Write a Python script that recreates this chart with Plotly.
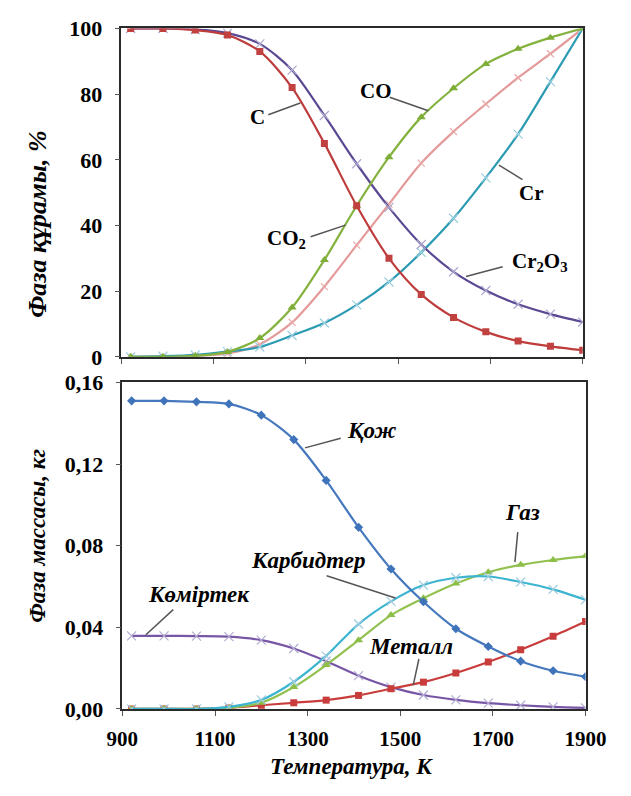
import plotly.graph_objects as go

# ---------------- data ----------------
T = [920, 990, 1060, 1130, 1200, 1270, 1340, 1410, 1480, 1550, 1620, 1690, 1760, 1830, 1900]

# top panel: phase composition, %
C_pct     = [100, 100, 99.5, 98.0, 93.0, 82.0, 65.0, 46.0, 30.0, 19.0, 12.0, 7.6, 4.8, 3.2, 2.0]
CO_pct    = [0, 0, 0.3, 1.5, 5.7, 15.0, 29.5, 46.0, 60.8, 73.0, 81.8, 89.2, 93.8, 97.2, 100]
CO2_pct   = [0, 0, 0.2, 1.0, 3.8, 10.5, 21.4, 34.0, 46.5, 59.0, 68.6, 77.0, 85.0, 92.3, 100]
Cr_pct    = [0, 0.2, 0.6, 1.6, 3.0, 6.5, 10.3, 15.8, 22.8, 31.8, 42.2, 54.5, 67.8, 83.8, 100]
Cr2O3_pct = [100, 100, 99.7, 98.6, 95.3, 87.3, 73.5, 58.8, 45.5, 34.2, 25.9, 20.2, 16.0, 13.0, 10.6]

# bottom panel: phase mass, kg
slag     = [0.151, 0.151, 0.1505, 0.1495, 0.144, 0.132, 0.112, 0.089, 0.0686, 0.0525, 0.0393, 0.0306, 0.0234, 0.0187, 0.0158]
gas      = [0, 0, 0, 0.0005, 0.003, 0.0107, 0.0215, 0.0337, 0.046, 0.0543, 0.0615, 0.067, 0.0706, 0.073, 0.0749]
carbides = [0, 0, 0, 0.001, 0.0044, 0.0133, 0.026, 0.0416, 0.0527, 0.0607, 0.0643, 0.0649, 0.0622, 0.0586, 0.0535]
metal    = [0, 0, 0, 0.0005, 0.0018, 0.003, 0.0043, 0.0066, 0.0099, 0.0131, 0.0176, 0.023, 0.029, 0.0356, 0.0428]
carbon   = [0.0358, 0.0358, 0.0357, 0.0354, 0.0337, 0.0296, 0.0234, 0.0163, 0.0107, 0.0068, 0.0044, 0.0028, 0.0018, 0.001, 0.0005]

x_ticks = [900, 1100, 1300, 1500, 1700, 1900]
top_ticks = [0, 20, 40, 60, 80, 100]
bot_ticks = [0, 0.04, 0.08, 0.12, 0.16]
bot_ticktext = ["0,00", "0,04", "0,08", "0,12", "0,16"]

W, H = 631, 796
SERIF = "Liberation Serif, Times New Roman, serif"


def px(x, y):
    return x / W, 1 - y / H


fig = go.Figure()


def add(xs, ys, color, symbol, msize, mcolor, xa, ya, mline=None):
    marker = dict(symbol=symbol, size=msize, color=mcolor)
    if mline is not None:
        marker["line"] = dict(color=mline, width=1.2)
    fig.add_trace(go.Scatter(
        x=xs, y=ys, mode="lines+markers", xaxis=xa, yaxis=ya,
        line=dict(color=color, width=2.2, shape="spline", smoothing=0.8),
        marker=marker, showlegend=False, hoverinfo="skip"))


# top panel
add(T, CO2_pct, "#E49A9A", "x-thin", 7, "#E49A9A", "x", "y", mline="#E8A8A8")
add(T, Cr_pct, "#2C9AB2", "x-thin", 9, "#8FC8D8", "x", "y", mline="#9CCFE0")
add(T, Cr2O3_pct, "#5B4893", "x-thin", 9, "#A9A3CC", "x", "y", mline="#ADA8CF")
add(T, CO_pct, "#84B23E", "triangle-up", 8, "#7FAE38", "x", "y")
add(T, C_pct, "#BE3C3C", "square", 7, "#C0413F", "x", "y")

# bottom panel
add(T, carbon, "#7856A6", "x-thin", 9, "#B0A8D0", "x2", "y2", mline="#B3ACD2")
add(T, metal, "#C93C3C", "square", 7, "#C93C3C", "x2", "y2")
add(T, gas, "#92C14F", "triangle-up", 8, "#8CBF48", "x2", "y2")
add(T, carbides, "#3DB4D0", "x-thin", 9, "#9BC8DC", "x2", "y2", mline="#A0CCE0")
add(T, slag, "#4678BE", "diamond", 7, "#3F73BA", "x2", "y2")

tickfont = dict(family=SERIF, size=22, color="black", weight="bold")
axcommon = dict(showgrid=False, zeroline=False, showline=True, mirror=True,
                linecolor="#2a2a2a", linewidth=1.5, ticks="outside", ticklen=5,
                tickcolor="#555", tickwidth=1)

top_dom_y = [1 - 356 / H, 1 - 17 / H]
bot_dom_y = [1 - 719.5 / H, 1 - 382.5 / H]

fig.update_layout(
    width=W, height=H, margin=dict(l=0, r=0, t=0, b=0),
    plot_bgcolor="white", paper_bgcolor="white",
    xaxis=dict(domain=[112 / W, 602 / W], range=[900, 1900], tickvals=x_ticks,
               showticklabels=False, anchor="y", tickfont=tickfont, **axcommon),
    yaxis=dict(domain=top_dom_y, range=[0, 100], tickvals=top_ticks,
               ticklabelstandoff=8, anchor="x", tickfont=tickfont, **axcommon),
    xaxis2=dict(domain=[113 / W, 605 / W], range=[900, 1900], tickvals=x_ticks,
                ticklabelstandoff=5, anchor="y2",
                tickfont=dict(tickfont, size=21), **axcommon),
    yaxis2=dict(domain=bot_dom_y, range=[0, 0.16], tickvals=bot_ticks,
                ticktext=bot_ticktext, ticklabelstandoff=8, anchor="x2",
                tickfont=tickfont, **axcommon),
)

annotations = []
shapes = []


def label(text, x, y, size=21, italic=False):
    t = f"<b><i>{text}</i></b>" if italic else f"<b>{text}</b>"
    ax, ay = px(x, y)
    annotations.append(dict(text=t, x=ax, y=ay, xref="paper", yref="paper",
                            showarrow=False, xanchor="center", yanchor="middle",
                            font=dict(family=SERIF, size=size, color="black")))


def leader(x0, y0, x1, y1):
    a0, b0 = px(x0, y0)
    a1, b1 = px(x1, y1)
    shapes.append(dict(type="line", xref="paper", yref="paper", x0=a0, y0=b0,
                       x1=a1, y1=b1, line=dict(color="#555", width=1.5)))


# top labels
label("C", 257, 108)
leader(268, 106, 302, 94)
label("CO", 382, 82)
leader(397, 88, 438, 102)
label("CO<sub>2</sub>", 287, 234)
leader(313, 232, 350, 220)
label("Cr", 548, 187)
leader(538, 173, 513, 158)
label("Cr<sub>2</sub>O<sub>3</sub>", 557, 258)
leader(517, 263, 478, 273)

# bottom labels
label("Қож", 378, 432, size=23, italic=True)
leader(345, 440, 307, 450)
label("Газ", 538, 517, size=23, italic=True)
leader(533, 537, 530, 568)
label("Карбидтер", 311, 566, size=23, italic=True)
leader(330, 582, 403, 605)
label("Көміртек", 194, 601, size=23, italic=True)
leader(167, 617, 138, 643)
label("Металл", 420, 655, size=23, italic=True)
leader(428, 668, 422, 695)

# axis titles
for text, x, y, ang, size in [
    ("Фаза құрамы, %", 22, 219, -90, 26),
    ("Фаза массасы, кг", 22, 541, -90, 23),
    ("Температура, К", 356, 779, 0, 23),
]:
    ax, ay = px(x, y)
    annotations.append(dict(text=f"<b><i>{text}</i></b>", x=ax, y=ay, xref="paper",
                            yref="paper", showarrow=False, textangle=ang,
                            xanchor="center", yanchor="middle",
                            font=dict(family=SERIF, size=size, color="black")))

fig.update_layout(annotations=annotations, shapes=shapes)
fig.write_html("out.html")
